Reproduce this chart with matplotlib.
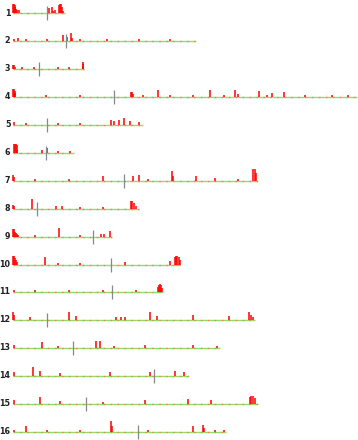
import matplotlib.pyplot as plt

# yeast chromosome lengths and centromere positions (kb)
chrom_names = [str(i) for i in range(1, 17)]
chrom_len = [230, 813, 317, 1532, 577, 270, 1091, 563, 440, 746, 667, 1078, 924, 784, 1091, 948]
cen_pos = [151, 238, 114, 449, 151, 148, 496, 105, 355, 436, 440, 150, 268, 628, 326, 556]

# peaks per chromosome: (position kb, signal height)
peaks1 = [(1, 9), (4, 9), (7, 8), (10, 6), (13, 4), (17, 3), (28, 3), (160, 5), (174, 6), (180, 2), (187, 3),
          (205, 8), (209, 9), (213, 9), (217, 6), (222, 2)]
peaks2 = [(5, 2), (22, 3), (60, 2), (150, 2), (223, 6), (240, 4), (258, 8), (262, 3), (300, 2), (420, 2),
          (560, 2), (700, 2)]
peaks3 = [(1, 4), (4, 4), (7, 2), (40, 2), (95, 2), (200, 2), (250, 2), (310, 5), (314, 7)]
peaks4 = [(1, 8), (4, 8), (7, 6), (10, 4), (145, 2), (300, 2), (525, 5), (530, 5), (535, 3), (580, 2),
          (646, 7), (700, 2), (800, 2), (877, 7), (940, 2), (989, 7), (1000, 3), (1096, 6), (1130, 2),
          (1154, 4), (1207, 5), (1300, 2), (1420, 2), (1490, 2)]
peaks5 = [(3, 3), (60, 2), (200, 2), (300, 2), (435, 5), (450, 4), (472, 5), (494, 7), (520, 4), (560, 3)]
peaks6 = [(4, 9), (8, 9), (12, 9), (16, 8), (20, 3), (130, 3), (150, 5), (200, 2), (255, 2)]
peaks7 = [(1, 6), (4, 4), (100, 2), (250, 2), (400, 5), (535, 5), (561, 6), (600, 2), (708, 10), (712, 5),
          (815, 5), (900, 3), (1000, 2), (1070, 12), (1076, 12), (1082, 8)]
peaks8 = [(2, 4), (6, 3), (85, 10), (190, 3), (220, 3), (300, 2), (400, 2), (525, 8), (532, 8), (540, 6),
          (548, 3)]
peaks9 = [(1, 8), (4, 8), (8, 5), (12, 4), (16, 3), (22, 2), (100, 2), (205, 9), (300, 2), (390, 3),
          (405, 3), (432, 6)]
peaks10 = [(1, 9), (4, 9), (8, 7), (12, 5), (20, 3), (142, 8), (200, 2), (300, 2), (500, 3), (700, 4),
           (720, 8), (726, 9), (732, 9), (738, 8), (743, 5)]
peaks11 = [(5, 2), (100, 2), (250, 2), (400, 2), (550, 2), (645, 5), (650, 7), (655, 8), (660, 7), (665, 4)]
peaks12 = [(2, 8), (6, 5), (75, 3), (250, 8), (280, 4), (460, 3), (480, 3), (500, 3), (610, 8), (640, 4),
           (800, 5), (960, 4), (1050, 8), (1058, 5), (1070, 3)]
peaks13 = [(3, 3), (130, 6), (200, 2), (370, 7), (388, 7), (450, 2), (590, 3), (800, 3), (910, 2)]
peaks14 = [(3, 4), (89, 9), (120, 5), (210, 3), (430, 4), (610, 4), (720, 5), (760, 4)]
peaks15 = [(3, 4), (120, 7), (210, 3), (400, 2), (590, 4), (780, 5), (880, 4), (1055, 7), (1062, 8),
           (1070, 8), (1078, 6)]
peaks16 = [(3, 2), (58, 6), (150, 2), (300, 2), (437, 11), (442, 6), (600, 2), (800, 6), (846, 7),
           (852, 4), (900, 2), (940, 2)]
all_peaks = [peaks1, peaks2, peaks3, peaks4, peaks5, peaks6, peaks7, peaks8,
             peaks9, peaks10, peaks11, peaks12, peaks13, peaks14, peaks15, peaks16]

px_per_kb = 0.2245
fig = plt.figure(figsize=(3.58, 4.4), dpi=100)
ax = fig.add_axes([0, 0, 1, 1])
ax.set_xlim(-13 / px_per_kb, 345 / px_per_kb)
ax.set_ylim(440, 0)
ax.axis('off')

for i, name in enumerate(chrom_names):
    base = 13.5 + 27.9 * i
    L = chrom_len[i]
    # baseline: green with red speckle
    ax.plot([0, L], [base, base], color='#8fe060', lw=1.0, solid_capstyle='butt', zorder=1)
    ax.plot([0, L], [base, base], color='#ff6060', lw=1.0, linestyle=(0, (1, 4)), alpha=0.7, zorder=2)
    xs = [p[0] for p in all_peaks[i]]
    hs = [p[1] for p in all_peaks[i]]
    ax.vlines(xs, base, [base - h for h in hs], color='#ff0000', lw=1.1, zorder=3)
    ax.vlines(cen_pos[i], base - 7, base + 7, color='#888888', lw=0.9, zorder=4)
    ax.text(-2.5 / px_per_kb, base - 0.5, name, ha='right', va='center',
            fontsize=5.8, fontweight='bold', color='#222222')

fig.savefig('out.png', dpi=100)
